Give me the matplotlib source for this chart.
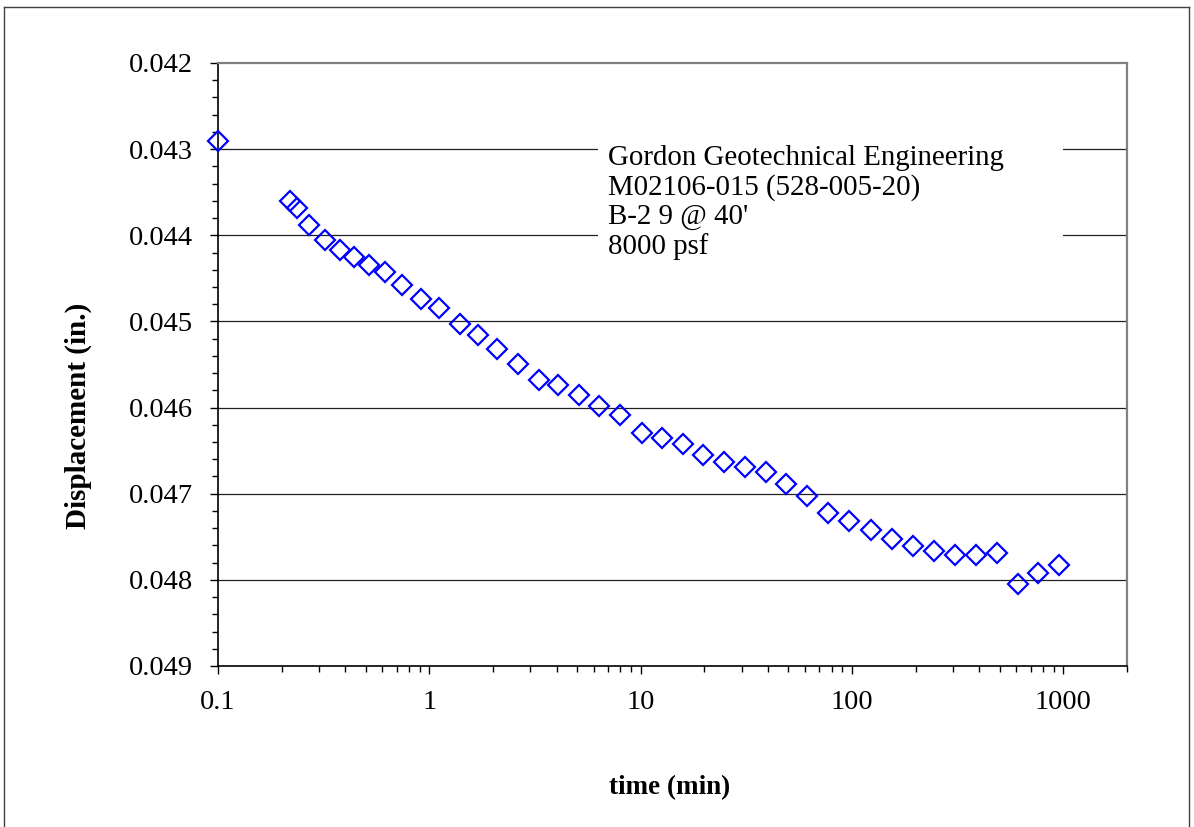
import matplotlib
matplotlib.use("Agg")
import matplotlib.pyplot as plt
from matplotlib.patches import Rectangle
from matplotlib.lines import Line2D
from matplotlib.ticker import LogLocator, FixedLocator, MultipleLocator, FuncFormatter

# Settlement readings: elapsed time (min) vs dial displacement (in.)
time_min = [0.1, 0.219, 0.236, 0.269, 0.320, 0.376, 0.438, 0.521, 0.620, 0.746,
            0.917, 1.11, 1.39, 1.70, 2.09, 2.63, 3.31, 4.06, 5.10, 6.34,
            7.96, 10.1, 12.6, 15.8, 19.8, 24.9, 31.3, 39.3, 48.8, 61.3,
            77.1, 96.8, 123, 155, 194, 244, 306, 385, 483, 607,
            762, 957]
displacement_in = [0.04291, 0.04360, 0.04368, 0.04388, 0.04405, 0.04417, 0.04425, 0.04434, 0.04443, 0.04458,
                   0.04474, 0.04484, 0.04503, 0.04516, 0.04532, 0.04549, 0.04568, 0.04574, 0.04585, 0.04598,
                   0.04609, 0.04630, 0.04635, 0.04642, 0.04655, 0.04663, 0.04669, 0.04675, 0.04689, 0.04703,
                   0.04722, 0.04732, 0.04742, 0.04753, 0.04761, 0.04767, 0.04771, 0.04771, 0.04769, 0.04805,
                   0.04792, 0.04783]

y_ticks = [0.042, 0.043, 0.044, 0.045, 0.046, 0.047, 0.048, 0.049]
x_ticks = [0.1, 1, 10, 100, 1000]
x_tick_labels = ["0.1", "1", "10", "100", "1000"]
note_lines = ["Gordon Geotechnical Engineering",
              "M02106-015 (528-005-20)",
              "B-2 9 @ 40'",
              "8000 psf"]

plt.rcParams['font.family'] = ['Liberation Serif', 'DejaVu Serif']

fig = plt.figure(figsize=(11.94, 8.27), dpi=100)
fig.patch.set_facecolor('white')

# outer chart-area frame
frame_kw = dict(color='#404040', lw=1.0, transform=fig.transFigure)
fig.add_artist(Line2D([4 / 1194, 4 / 1194], [0, 1 - 7 / 827], **frame_kw))
fig.add_artist(Line2D([1189 / 1194, 1189 / 1194], [0, 1 - 7 / 827], **frame_kw))
fig.add_artist(Line2D([4 / 1194, 1189 / 1194], [1 - 7 / 827, 1 - 7 / 827], **frame_kw))

ax = fig.add_axes([218 / 1194, 1 - 666 / 827, 909 / 1194, 603 / 827])
ax.set_xscale('log')
ax.set_xlim(0.1, 2000)
ax.set_ylim(0.049, 0.042)

# horizontal gridlines at major y ticks
for yv in y_ticks[1:-1]:
    ax.axhline(yv, color='#202020', lw=0.9, zorder=1)

# white panel behind the note text
ax.add_patch(Rectangle((0.418, 0.665), 0.5116, 0.205, transform=ax.transAxes,
                       facecolor='white', edgecolor='none', zorder=2))
y0 = 1 - (165 - 63) / 603
for i, line in enumerate(note_lines):
    ax.text((608 - 218) / 909, y0 - i * 29.5 / 603, line, transform=ax.transAxes,
            fontsize=20.8, ha='left', va='baseline', zorder=3)

ax.plot(time_min, displacement_in, linestyle='none', marker='D', markersize=9.8,
        markerfacecolor='none', markeredgecolor='#0000ff', markeredgewidth=1.6,
        zorder=4, clip_on=False)

# axes styling
for side in ('top', 'right'):
    ax.spines[side].set_color('#808080')
    ax.spines[side].set_linewidth(1.6)
for side in ('left', 'bottom'):
    ax.spines[side].set_color('black')
    ax.spines[side].set_linewidth(1.2)

ax.yaxis.set_major_locator(FixedLocator(y_ticks))
ax.yaxis.set_minor_locator(MultipleLocator(0.0002))
ax.yaxis.set_major_formatter(FuncFormatter(lambda v, p: f"{v:.3f}"))
ax.xaxis.set_major_locator(FixedLocator(x_ticks))
ax.xaxis.set_minor_locator(LogLocator(base=10, subs=range(2, 10), numticks=20))
ax.set_xticklabels(x_tick_labels)

ax.tick_params(axis='both', which='major', direction='out', length=6, width=1.0,
               color='black', labelsize=20.5)
ax.tick_params(axis='both', which='minor', direction='out', length=4.5, width=1.0,
               color='black')
ax.tick_params(axis='y', which='major', pad=12)
ax.tick_params(axis='x', which='major', pad=11)

ax.set_xlabel('time (min)', fontsize=19.5, fontweight='bold')
ax.set_ylabel('Displacement (in.)', fontsize=21, fontweight='bold')
ax.xaxis.set_label_coords((670 - 218) / 909, (666 - 775) / 603)
ax.yaxis.set_label_coords((92 - 218) / 909, (666 - 415.5) / 603)

fig.savefig('out.png', dpi=100, facecolor='white')
